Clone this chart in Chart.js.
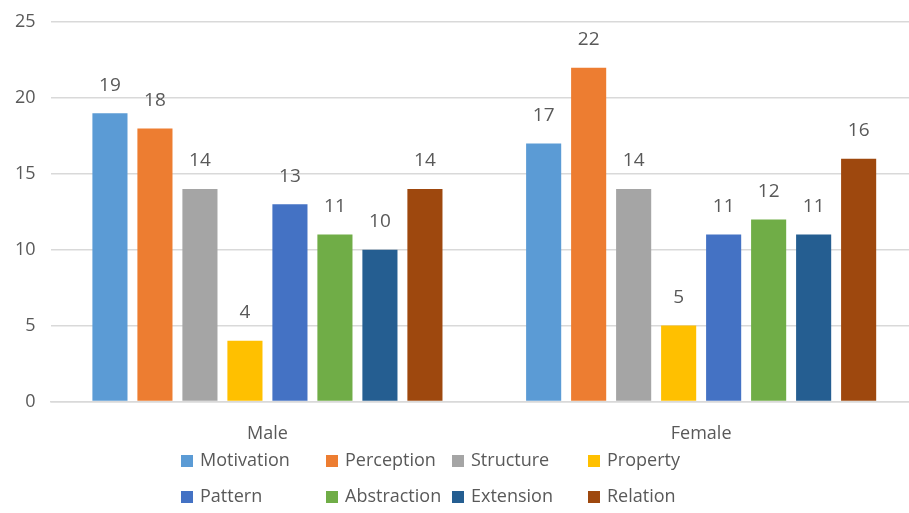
<!DOCTYPE html>
<html>
<head>
<meta charset="utf-8">
<script src="https://cdn.jsdelivr.net/npm/chart.js@4.4.0/dist/chart.umd.min.js"></script>
<style>
  body { margin: 0; background: #fff; overflow: hidden; }
  #wrap { width: 909px; height: 513px; overflow: hidden; }
</style>
</head>
<body>
<div id="wrap"><canvas id="myChart" width="918" height="513"></canvas></div>
<script>
var groups = ['Male', 'Female'];
var seriesNames = ['Motivation', 'Perception', 'Structure', 'Property', 'Pattern', 'Abstraction', 'Extension', 'Relation'];
var motivation = [19, 17];
var perception = [18, 22];
var structure = [14, 14];
var property = [4, 5];
var pattern = [13, 11];
var abstraction = [11, 12];
var extension = [10, 11];
var relation = [14, 16];
var yTicks = [0, 5, 10, 15, 20, 25];

var colours = ['#5b9bd5', '#ed7d31', '#a5a5a5', '#ffc000', '#4472c4', '#70ad47', '#255e91', '#9e480e'];
var allValues = [motivation, perception, structure, property, pattern, abstraction, extension, relation];

var FONT = '"Open Sans", "Noto Sans", sans-serif';
var TEXT = '#595959';

// value labels above each bar
var barLabels = {
    id: 'barLabels',
    afterDatasetsDraw: function (chart) {
        var ctx = chart.ctx;
        ctx.save();
        ctx.font = '19px ' + FONT;
        ctx.fillStyle = TEXT;
        ctx.textAlign = 'center';
        ctx.textBaseline = 'middle';
        chart.data.datasets.forEach(function (ds, i) {
            chart.getDatasetMeta(i).data.forEach(function (bar, j) {
                ctx.fillText(ds.data[j], bar.x, bar.y - 28);
            });
        });
        ctx.restore();
    }
};

// legend in a 4 column grid under the axis
var gridLegend = {
    id: 'gridLegend',
    afterDraw: function (chart) {
        var ctx = chart.ctx;
        var cols = [181, 326, 452, 588];
        var rows = [461, 497];
        ctx.save();
        ctx.font = '18px ' + FONT;
        ctx.textBaseline = 'middle';
        ctx.textAlign = 'left';
        chart.data.datasets.forEach(function (ds, i) {
            var x = cols[i % 4];
            var y = rows[Math.floor(i / 4)];
            ctx.fillStyle = ds.backgroundColor;
            ctx.fillRect(x, y - 6, 12, 12);
            ctx.fillStyle = TEXT;
            ctx.fillText(ds.label, x + 19, y);
        });
        ctx.restore();
    }
};

var datasets = seriesNames.map(function (name, i) {
    return {
        label: name,
        data: allValues[i],
        backgroundColor: colours[i],
        borderWidth: 0,
        categoryPercentage: 0.83,
        barPercentage: 0.78
    };
});

var ctx = document.getElementById('myChart').getContext('2d');
var myChart = new Chart(ctx, {
    type: 'bar',
    data: { labels: groups, datasets: datasets },
    plugins: [barLabels, gridLegend],
    options: {
        responsive: false,
        animation: false,
        layout: { padding: { top: 0, left: 0, right: 0, bottom: 54 } },
        plugins: {
            legend: { display: false },
            tooltip: { enabled: false }
        },
        scales: {
            x: {
                grid: { display: false },
                border: { color: '#d9d9d9', width: 1.5 },
                ticks: { color: TEXT, font: { family: FONT, size: 18 }, padding: 14 }
            },
            y: {
                min: 0,
                max: 25,
                afterBuildTicks: function (axis) {
                    axis.ticks = yTicks.map(function (v) { return { value: v }; });
                },
                grid: { color: '#d9d9d9', lineWidth: 1.5, drawTicks: false },
                border: { display: false },
                ticks: { color: TEXT, font: { family: FONT, size: 18, lineHeight: 0.8 }, padding: 15 }
            }
        }
    }
});
</script>
</body>
</html>
